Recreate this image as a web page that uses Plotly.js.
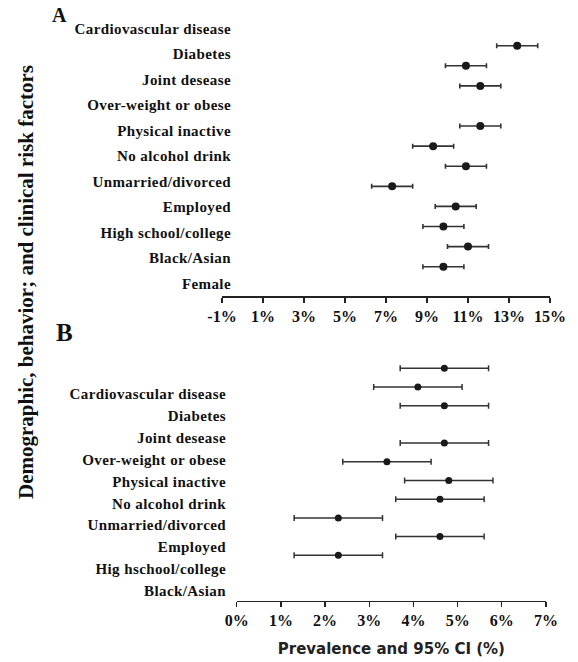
<!DOCTYPE html>
<html>
<head>
<meta charset="utf-8">
<script src="https://cdn.plot.ly/plotly-3.0.1.min.js"></script>
<style>
html,body{margin:0;padding:0;background:#fff;}
#chart{width:578px;height:662px;}
.y3tick text, .y4tick text{letter-spacing:0.4px;}
</style>
</head>
<body>
<div id="chart"></div>
<script>
// ---- Panel A data ----
const labelsA = ["Cardiovascular disease","Diabetes","Joint desease","Over-weight or obese","Physical inactive","No alcohol drink","Unmarried/divorced","Employed","High school/college","Black/Asian","Female"];
// point rows as drawn (one empty row in the original figure)
const rowsA = ["a1","a2","a3"," ","a4","a5","a6","a7","a8","a9","a10","a11"];
const pointRowsA = ["a1","a2","a3","a4","a5","a6","a7","a8","a9","a10","a11"];
const prevA = [13.4, 10.9, 11.6, 11.6, 9.3, 10.9, 7.3, 10.4, 9.8, 11.0, 9.8];
const ciA = [1.0, 1.0, 1.0, 1.0, 1.0, 1.0, 1.0, 1.0, 1.0, 1.0, 1.0];
const ticksA = [-1, 1, 3, 5, 7, 9, 11, 13, 15];

// ---- Panel B data ----
const labelsB = ["Cardiovascular disease","Diabetes","Joint desease","Over-weight or obese","Physical inactive","No alcohol drink","Unmarried/divorced","Employed","Hig hschool/college","Black/Asian"];
const rowsB = ["b1","b2","b3"," ","b4","b5","b6","b7","b8","b9","b10"];
const pointRowsB = ["b1","b2","b3","b4","b5","b6","b7","b8","b9","b10"];
const prevB = [4.7, 4.1, 4.7, 4.7, 3.4, 4.8, 4.6, 2.3, 4.6, 2.3];
const ciB = [1.0, 1.0, 1.0, 1.0, 1.0, 1.0, 1.0, 1.0, 1.0, 1.0];
const ticksB = [0, 1, 2, 3, 4, 5, 6, 7];

const serif = "Liberation Serif, Times New Roman, serif";
const W = 578, H = 662;
const px2x = p => p / W;
const py2y = p => (H - p) / H;

const traces = [
  {type:'scatter', mode:'markers', x: prevA, y: pointRowsA, xaxis:'x', yaxis:'y',
   marker:{color:'#1a1a1a', size:8},
   error_x:{type:'data', array: ciA, symmetric:true, color:'#333', thickness:1.6, width:2.5},
   hoverinfo:'x', showlegend:false},
  {type:'scatter', mode:'markers', x: prevA, y: labelsA, xaxis:'x', yaxis:'y3',
   marker:{opacity:0, size:1}, hoverinfo:'skip', showlegend:false},
  {type:'scatter', mode:'markers', x: prevB, y: pointRowsB, xaxis:'x2', yaxis:'y2',
   marker:{color:'#1a1a1a', size:7},
   error_x:{type:'data', array: ciB, symmetric:true, color:'#333', thickness:1.5, width:3},
   hoverinfo:'x', showlegend:false},
  {type:'scatter', mode:'markers', x: prevB, y: labelsB, xaxis:'x2', yaxis:'y4',
   marker:{opacity:0, size:1}, hoverinfo:'skip', showlegend:false}
];

const tickFont = {family: serif, size: 16, color:'#111', weight:'bold'};
const labFont = {family: serif, size: 15, color:'#111', weight:'bold'};

const layout = {
  width: W, height: H,
  margin:{l:0, r:0, t:0, b:0},
  paper_bgcolor:'#fff', plot_bgcolor:'rgba(0,0,0,0)',
  showlegend:false,
  xaxis:{domain:[px2x(222), px2x(550)], range:[-1, 15], anchor:'y',
    tickvals: ticksA, ticktext: ticksA.map(v => v + '%'),
    showgrid:false, zeroline:false, showline:true, linecolor:'#222', linewidth:1.5,
    ticks:'outside', ticklen:5, tickwidth:1.3, tickcolor:'#222', tickfont: tickFont},
  yaxis:{domain:[py2y(296), py2y(15)], type:'category', categoryorder:'array', categoryarray: rowsA,
    range:[12.459, -1.528], showticklabels:false, showgrid:false, zeroline:false, showline:false, ticks:''},
  yaxis3:{type:'category', overlaying:'y', anchor:'free', position: px2x(231), side:'left',
    categoryorder:'array', categoryarray: labelsA,
    range:[10.498, -0.522], showgrid:false, zeroline:false, showline:false, ticks:'', tickfont: labFont},
  xaxis2:{domain:[px2x(236.7), px2x(546)], range:[0, 7], anchor:'y2',
    tickvals: ticksB, ticktext: ticksB.map(v => v + '%'),
    showgrid:false, zeroline:false, showline:true, linecolor:'#222', linewidth:1.5,
    ticks:'outside', ticklen:5, tickwidth:1.3, tickcolor:'#222', tickfont: tickFont,
    title:{text:'Prevalence and 95% CI (%)', font:{family:'DejaVu Sans, sans-serif', size:15, color:'#222', weight:'bold'}, standoff: 15}},
  yaxis2:{domain:[py2y(600.7), py2y(320)], type:'category', categoryorder:'array', categoryarray: rowsB,
    range:[12.428, -2.583], showticklabels:false, showgrid:false, zeroline:false, showline:false, ticks:''},
  yaxis4:{type:'category', overlaying:'y2', anchor:'free', position: px2x(226), side:'left',
    categoryorder:'array', categoryarray: labelsB,
    range:[9.456, -3.385], showgrid:false, zeroline:false, showline:false, ticks:'', tickfont: labFont},
  annotations:[
    {text:'A', xref:'paper', yref:'paper', x: px2x(59), y: py2y(15), xanchor:'center', yanchor:'middle', showarrow:false,
     font:{family: serif, size:20, color:'#111', weight:'bold'}},
    {text:'B', xref:'paper', yref:'paper', x: px2x(64.5), y: py2y(332), xanchor:'center', yanchor:'middle', showarrow:false,
     font:{family: serif, size:25, color:'#111', weight:'bold'}},
    {text:'Demographic, behavior; and clinical risk factors', xref:'paper', yref:'paper', x: px2x(26), y: py2y(282),
     xanchor:'center', yanchor:'middle', textangle:-90, showarrow:false,
     font:{family: serif, size:21, color:'#111', weight:'bold'}}
  ]
};

Plotly.newPlot('chart', traces, layout, {displayModeBar:false, staticPlot:true});
</script>
</body>
</html>
